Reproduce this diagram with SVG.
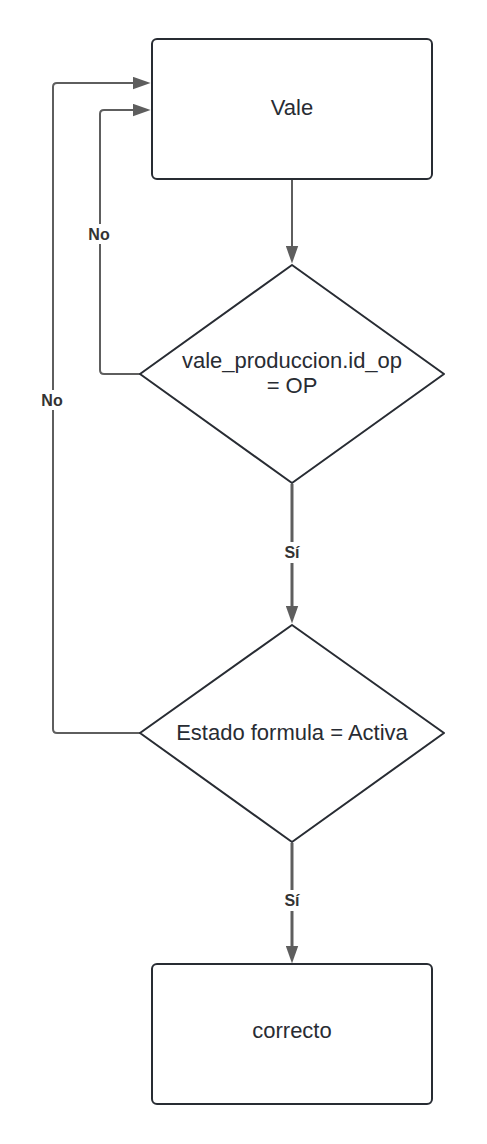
<svg xmlns="http://www.w3.org/2000/svg" width="487" height="1144" viewBox="0 0 487 1144">
<defs>
<style>
.box{fill:#fff;stroke:#282c33;stroke-width:2}
.conn{fill:none;stroke:#5e5e5e;stroke-width:2;stroke-linejoin:round}
.thick{stroke-width:3}
.t{font-family:"Liberation Sans",Arial,sans-serif;font-size:22px;fill:#282c33;text-anchor:middle}
.lbl{font-family:"Liberation Sans",Arial,sans-serif;font-size:16px;font-weight:bold;fill:#333;text-anchor:middle}
.bg{fill:#fff}
</style>
<marker id="ah" markerUnits="userSpaceOnUse" markerWidth="18" markerHeight="13" refX="7" refY="6" orient="auto" viewBox="0 0 17 12">
<path d="M0,0 L17,6 L0,12 z" fill="#5e5e5e"/>
</marker>
</defs>
<rect width="487" height="1144" fill="#fff"/>
<g id="connectors">
<path class="conn" d="M292,180 V253" marker-end="url(#ah)"/>
<path class="conn thick" d="M292,484 V613" marker-end="url(#ah)"/>
<path class="conn thick" d="M292,843 V953" marker-end="url(#ah)"/>
<path class="conn" d="M140,374 H104 Q100,374 100,370 V114 Q100,110 104,110 H140" marker-end="url(#ah)"/>
<path class="conn" d="M140,733 H57 Q53,733 53,729 V87 Q53,83 57,83 H140" marker-end="url(#ah)"/>
<rect class="bg" x="84" y="224" width="30" height="20"/>
<text class="lbl" x="99" y="240">No</text>
<rect class="bg" x="37" y="390" width="30" height="20"/>
<text class="lbl" x="52" y="406">No</text>
<rect class="bg" x="280" y="542" width="24" height="21"/>
<text class="lbl" x="292" y="558">Sí</text>
<rect class="bg" x="280" y="890" width="24" height="21"/>
<text class="lbl" x="292" y="906">Sí</text>
</g>
<g id="vale">
<rect class="box" x="152" y="39" width="280" height="140" rx="5"/>
<text class="t" x="292" y="115">Vale</text>
</g>
<g id="decision1">
<path class="box" d="M292,265 L444,374 L292,483 L140,374 Z" stroke-linejoin="round"/>
<text class="t" x="292" y="368">vale_produccion.id_op</text>
<text class="t" x="292" y="393">= OP</text>
</g>
<g id="decision2">
<path class="box" d="M292,625 L444,733 L292,842 L140,733 Z" stroke-linejoin="round"/>
<text class="t" x="292" y="740">Estado formula = Activa</text>
</g>
<g id="correcto">
<rect class="box" x="152" y="964" width="280" height="140" rx="5"/>
<text class="t" x="292" y="1038">correcto</text>
</g>
</svg>
